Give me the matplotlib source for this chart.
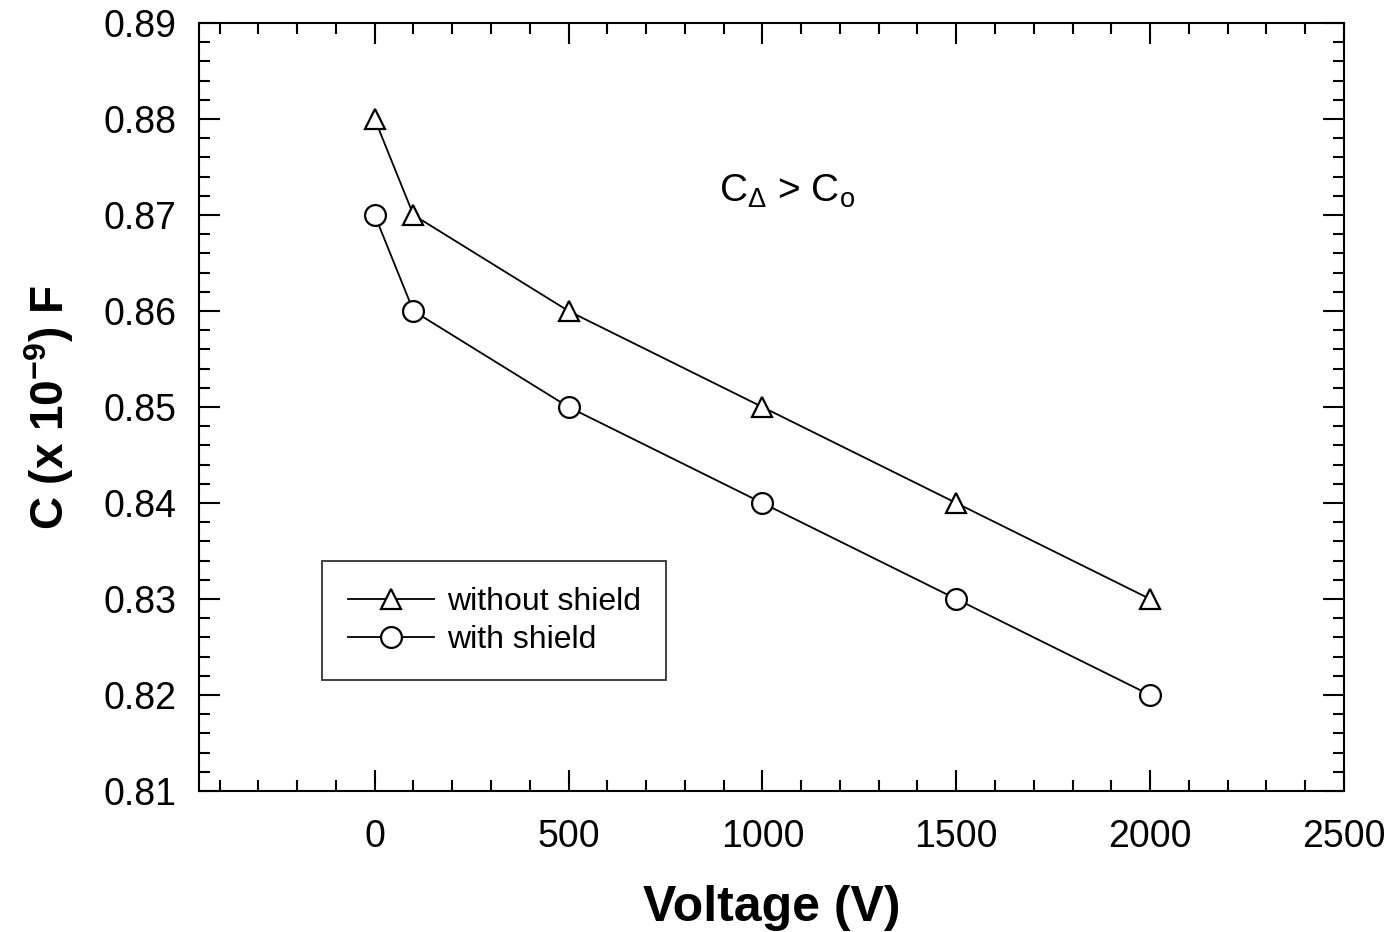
import matplotlib
matplotlib.use("Agg")
import matplotlib.pyplot as plt
from matplotlib.ticker import MultipleLocator

voltage = [0, 100, 500, 1000, 1500, 2000]
without_shield = [0.88, 0.87, 0.86, 0.85, 0.84, 0.83]
with_shield = [0.87, 0.86, 0.85, 0.84, 0.83, 0.82]
x_ticks = [0, 500, 1000, 1500, 2000, 2500]
y_ticks = [0.81, 0.82, 0.83, 0.84, 0.85, 0.86, 0.87, 0.88, 0.89]

plt.rcParams['font.family'] = ['Liberation Sans', 'DejaVu Sans']
plt.rcParams['mathtext.fontset'] = 'custom'
plt.rcParams['mathtext.rm'] = 'Liberation Sans'
plt.rcParams['mathtext.it'] = 'Liberation Sans:italic'
plt.rcParams['mathtext.bf'] = 'Liberation Sans:bold'

fig = plt.figure(figsize=(13.97, 9.32), dpi=100)
ax = fig.add_axes([0.1425, 0.1513, 0.8195, 0.824])

ax.plot(voltage, without_shield, '-', color='black', lw=1.3, marker='^',
        markersize=15, markerfacecolor='white', markeredgecolor='black',
        markeredgewidth=1.6, label='without shield')
ax.plot(voltage, with_shield, '-', color='black', lw=1.3, marker='o',
        markersize=15, markerfacecolor='white', markeredgecolor='black',
        markeredgewidth=1.6, label='with shield')

ax.set_xlim(-453, 2500)
ax.set_ylim(0.81, 0.89)
ax.set_xticks(x_ticks)
ax.set_yticks(y_ticks)
ax.set_yticklabels([f"{v:.2f}" for v in y_ticks])
ax.xaxis.set_minor_locator(MultipleLocator(100))
ax.yaxis.set_minor_locator(MultipleLocator(0.002))
ax.tick_params(which='both', direction='in', top=True, right=True, width=1.5)
ax.tick_params(which='major', length=15, labelsize=27)
ax.tick_params(axis='x', which='major', pad=20)
ax.tick_params(axis='y', which='major', pad=16)
ax.tick_params(which='minor', length=8)
for s in ax.spines.values():
    s.set_linewidth(1.5)

ax.set_xlabel('Voltage (V)', fontsize=36, fontweight='bold', labelpad=22)
ax.set_ylabel(r'C (x 10$^{\mathbf{-9}}$) F', fontsize=33, fontweight='bold', labelpad=20)

ax.text(887, 0.8725, r'C$_\Delta$ > C$_\mathrm{o}$', fontsize=28, ha='left', va='center')

leg = ax.legend(loc='upper left', bbox_to_anchor=(0.1075, 0.299), fontsize=23,
                frameon=True, fancybox=False, edgecolor='black', handlelength=2.7,
                borderpad=0.8, labelspacing=0.25, handletextpad=0.4, borderaxespad=0)
leg.get_frame().set_linewidth(1.3)

fig.savefig('out.png', dpi=100)
